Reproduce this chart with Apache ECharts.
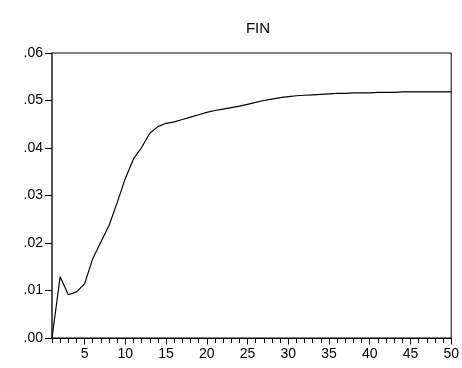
<!DOCTYPE html>
<html>
<head>
<meta charset="utf-8">
<script src="https://cdn.jsdelivr.net/npm/echarts@6/dist/echarts.min.js"></script>
<style>html,body{margin:0;padding:0;background:#fff}#c{width:462px;height:368px}</style>
</head>
<body>
<div id="c"></div>
<script>
const title = 'FIN';
const periods = [];
for (let i = 1; i <= 50; i++) periods.push(i);
const values = [
  0.0000, 0.0129, 0.0091, 0.0097, 0.0114, 0.0167, 0.0202, 0.0237, 0.0285, 0.0336,
  0.0377, 0.0401, 0.0431, 0.0445, 0.0452, 0.0455, 0.0460, 0.0465, 0.0470, 0.0475,
  0.0479, 0.0482, 0.0485, 0.0488, 0.0492, 0.0496, 0.0500, 0.0503, 0.0506, 0.0508,
  0.0510, 0.0511, 0.0512, 0.0513, 0.0514, 0.0515, 0.0515, 0.0516, 0.0516, 0.0516,
  0.0517, 0.0517, 0.0517, 0.0518, 0.0518, 0.0518, 0.0518, 0.0518, 0.0518, 0.0518
];
const xTickLabels = [5, 10, 15, 20, 25, 30, 35, 40, 45, 50];
const yTicks = [0, 0.01, 0.02, 0.03, 0.04, 0.05, 0.06];

const font = '"Liberation Sans", Arial, sans-serif';
const chart = echarts.init(document.getElementById('c'), null, {renderer: 'canvas'});
chart.setOption({
  animation: false,
  backgroundColor: '#fff',
  title: {
    text: title, left: 253, top: 16, textAlign: 'center',
    textStyle: {fontFamily: font, fontSize: 15, fontWeight: 'normal', color: '#000'}
  },
  grid: {left: 52, right: 8, top: 53, bottom: 30, show: true, borderColor: '#000', borderWidth: 1, backgroundColor: 'transparent'},
  xAxis: [{
    type: 'value', min: 1, max: 50,
    axisLine: {show: true, lineStyle: {color: '#000', width: 1}},
    axisTick: {show: true, length: 5, lineStyle: {color: '#000'}, customValues: periods},
    axisLabel: {show: true, customValues: xTickLabels, margin: 9, fontFamily: font, fontSize: 14, color: '#000'},
    splitLine: {show: false}
  }, {
    type: 'value', min: 1, max: 50, position: 'bottom',
    axisLine: {show: false},
    axisTick: {show: true, length: 6.5, lineStyle: {color: '#000'}, customValues: xTickLabels},
    axisLabel: {show: false},
    splitLine: {show: false}
  }],
  yAxis: {
    type: 'value', min: yTicks[0], max: yTicks[yTicks.length - 1], interval: 0.01,
    axisLine: {show: true, lineStyle: {color: '#444', width: 1.5}},
    axisTick: {show: true, length: 7, lineStyle: {color: '#000', width: 1}},
    axisLabel: {
      margin: 9, fontFamily: font, fontSize: 14, color: '#000',
      formatter: v => v.toFixed(2).replace(/^0/, '')
    },
    splitLine: {show: false}
  },
  series: [{
    type: 'line', xAxisIndex: 0,
    data: periods.map((p, i) => [p, values[i]]),
    showSymbol: false, symbol: 'none',
    lineStyle: {color: '#000', width: 1.2}
  }]
});
</script>
</body>
</html>
